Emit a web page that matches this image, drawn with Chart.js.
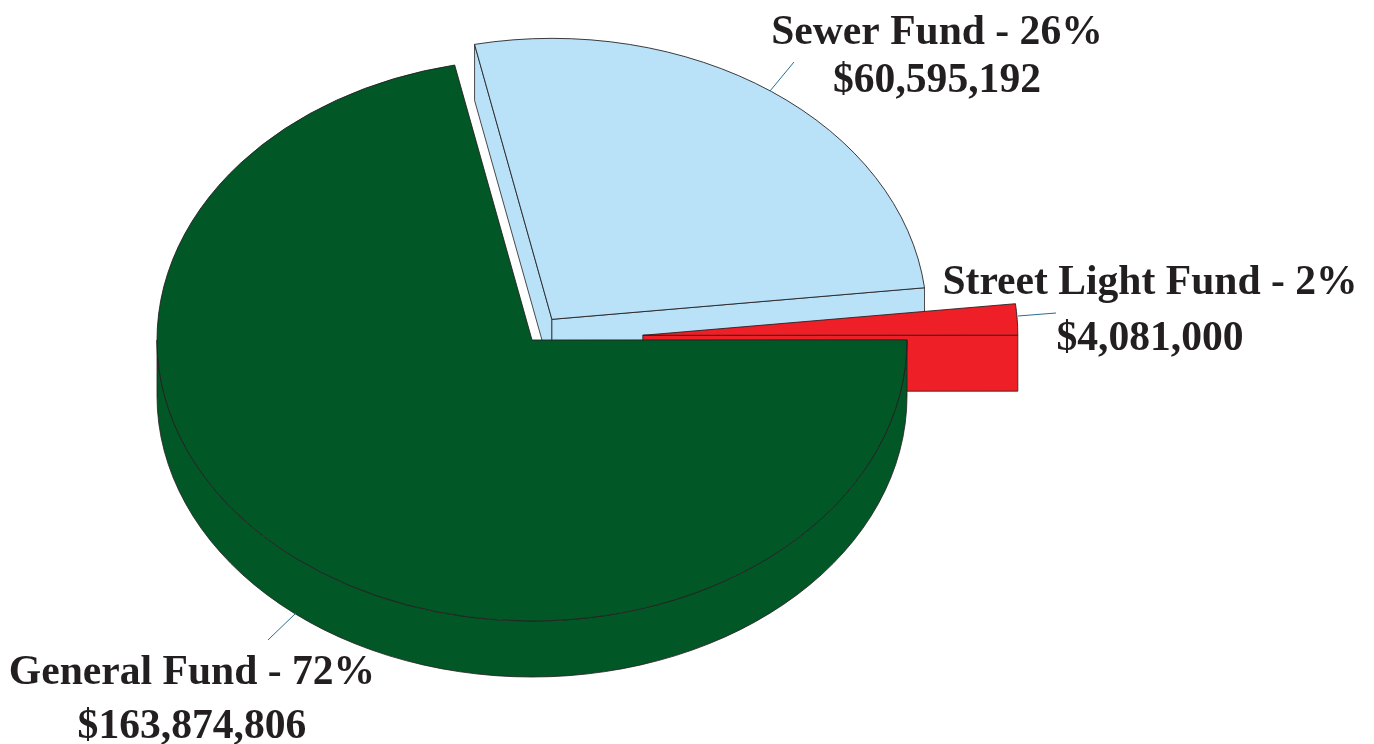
<!DOCTYPE html>
<html><head><meta charset="utf-8">
<style>html,body{margin:0;padding:0;background:#fff}canvas{display:block}</style>
<script src="https://cdn.jsdelivr.net/npm/chart.js@4"></script>
</head><body><canvas id="c" width="1374" height="744"></canvas>
<script>
const categories = ['Sewer Fund', 'Street Light Fund', 'General Fund'];
const amounts = [60595192, 4081000, 163874806];
const percents = ['26%', '2%', '72%'];
const amountLabels = ['$60,595,192', '$4,081,000', '$163,874,806'];
const colors = ['#b9e1f8', '#ee1f26', '#025726'];
const explode = [34, 111, 0];
const labelCenters = [[937, 44, 92], [1150, 294, 350], [192, 684, 738]];
const leaders = [[770, 91, 794, 62], [1018, 316, 1056, 313], [296, 613, 268, 640]];
const squash = 281 / 375, depth = 56, edge = '#231f20';

const pie3d = {
  id: 'pie3d',
  beforeDatasetDraw(chart, args) {
    const ctx = chart.ctx;
    args.meta.data.forEach((arc, i) => {
      const { x, y, startAngle: a0, endAngle: a1, outerRadius: r } = arc;
      const mid = (a0 + a1) / 2;
      const dy = depth / squash;
      ctx.save();
      ctx.translate(x, y); ctx.scale(1, squash); ctx.translate(-x, -y);
      ctx.translate(Math.cos(mid) * explode[i], Math.sin(mid) * explode[i]);
      const faces = [];
      // outer wall: only the parts of the rim that face the viewer
      const t = 2 * Math.PI;
      for (const k of [-1, 0, 1, 2]) {
        const from = Math.max(a0, k * t), to = Math.min(a1, k * t + Math.PI);
        if (to > from + 1e-6) faces.push(p => {
          p.arc(x, y, r, from, to);
          p.lineTo(x + r * Math.cos(to), y + r * Math.sin(to) + dy);
          p.arc(x, y + dy, r, to, from, true);
          p.closePath();
        });
      }
      // cut walls
      [[a0, -1], [a1, 1]].forEach(([a, sign]) => {
        if (Math.sin(a + sign * Math.PI / 2) > 0.001) faces.push(p => {
          p.moveTo(x, y); p.lineTo(x + r * Math.cos(a), y + r * Math.sin(a));
          p.lineTo(x + r * Math.cos(a), y + r * Math.sin(a) + dy); p.lineTo(x, y + dy); p.closePath();
        });
      });
      const m = ctx.getTransform();
      faces.forEach(f => {
        ctx.beginPath(); f(ctx);
        ctx.fillStyle = colors[i]; ctx.fill();
        ctx.setTransform(1, 0, 0, 1, 0, 0);
        ctx.strokeStyle = edge; ctx.lineWidth = 0.8; ctx.stroke();
        ctx.setTransform(m);
      });
      arc.draw(ctx);
      ctx.restore();
    });
    return false;
  },
  afterDraw(chart) {
    const ctx = chart.ctx;
    ctx.save();
    ctx.strokeStyle = '#2b6c8f'; ctx.lineWidth = 1;
    leaders.forEach(([a, b, c, d]) => { ctx.beginPath(); ctx.moveTo(a, b); ctx.lineTo(c, d); ctx.stroke(); });
    ctx.fillStyle = edge; ctx.textAlign = 'center'; ctx.textBaseline = 'alphabetic';
    ctx.font = 'bold 41.6px "Liberation Serif"';
    categories.forEach((c, i) => {
      const [cx, y1, y2] = labelCenters[i];
      ctx.fillText(c + ' - ' + percents[i], cx, y1);
      ctx.fillText(amountLabels[i], cx, y2);
    });
    ctx.restore();
  }
};

new Chart(document.getElementById('c'), {
  type: 'pie',
  data: { labels: categories, datasets: [{ data: amounts, backgroundColor: colors, borderColor: edge, borderWidth: 1 }] },
  options: {
    responsive: false, animation: false,
    rotation: 348.1, radius: 375,
    layout: { padding: { right: 310, bottom: 64 } },
    plugins: { legend: { display: false }, tooltip: { enabled: false } }
  },
  plugins: [pie3d]
});
</script></body></html>
